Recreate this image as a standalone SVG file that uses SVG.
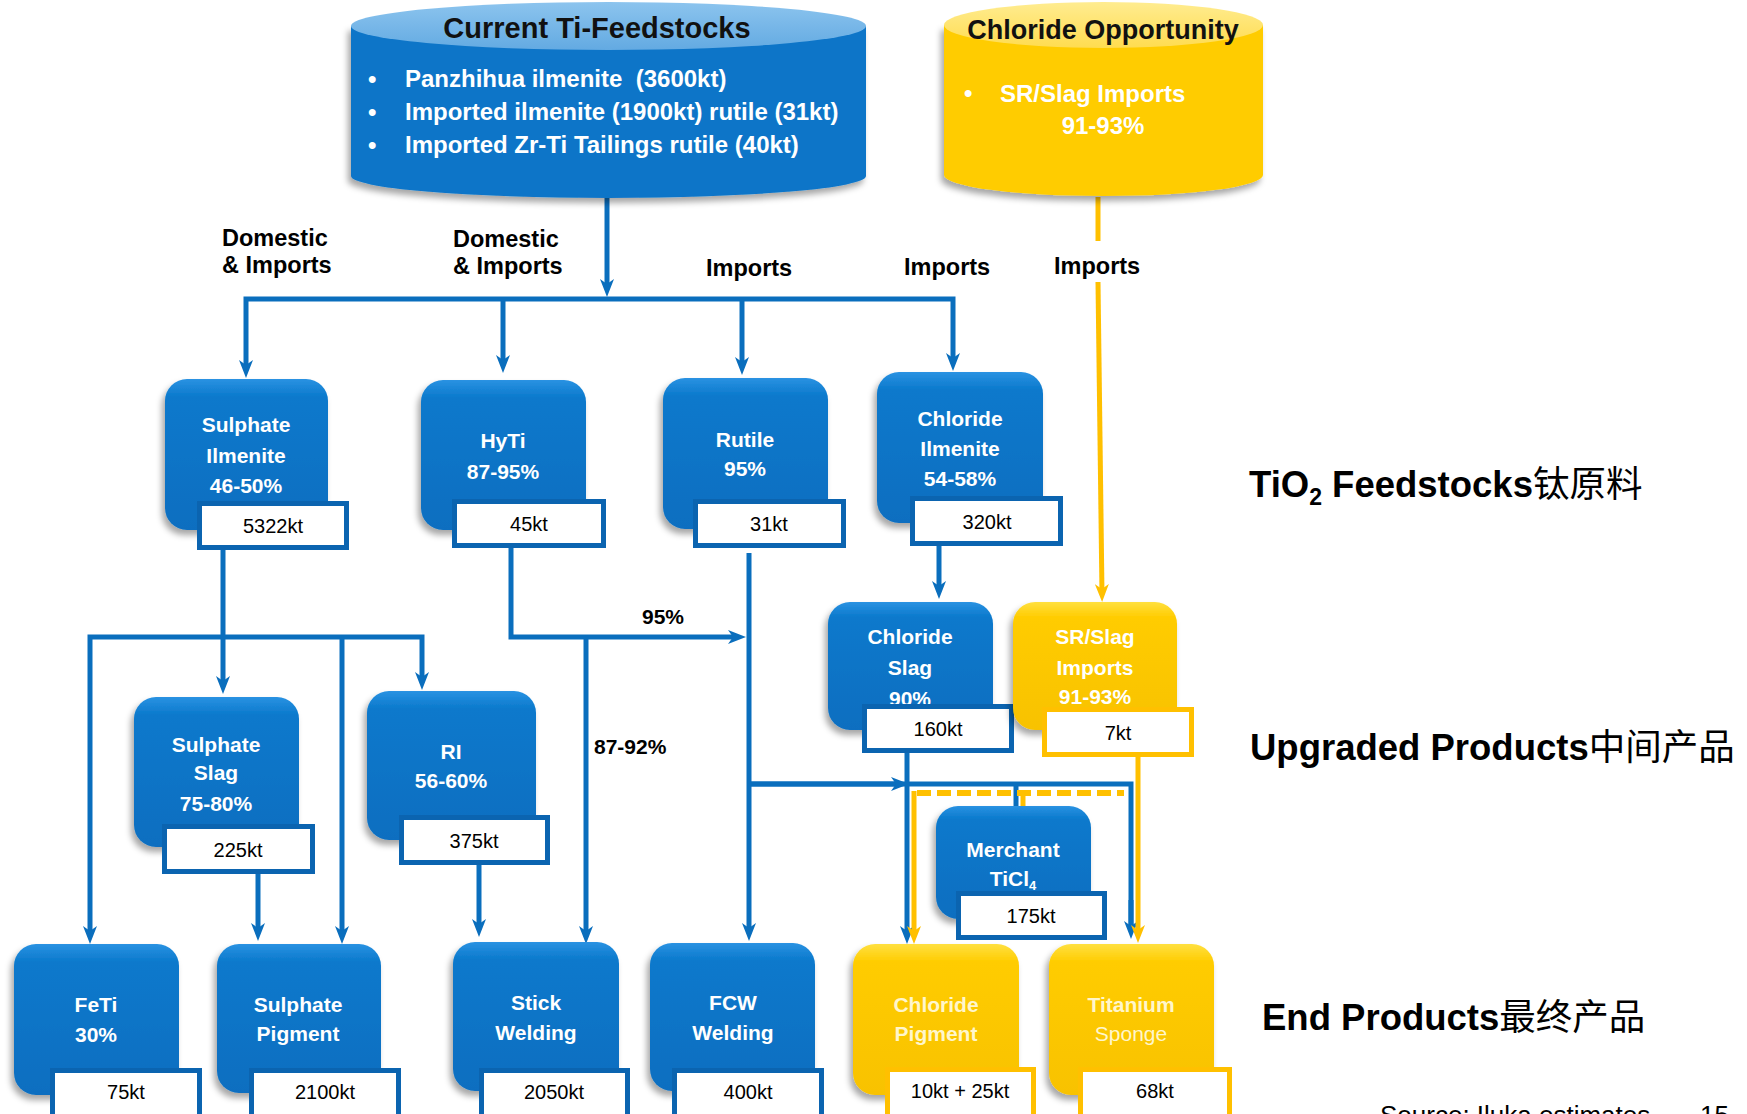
<svg xmlns="http://www.w3.org/2000/svg" width="1747" height="1114" viewBox="0 0 1747 1114">
<defs>
<style>
.box-b{fill:url(#gb);filter:url(#sh)}
.box-y{fill:url(#gy);filter:url(#sh)}
.lbl-b{fill:#fff;stroke:#0B64B0;stroke-width:5}
.lbl-y{fill:#fff;stroke:#FFC000;stroke-width:5}
.t{font-family:"Liberation Sans",Arial,sans-serif;font-weight:bold;font-size:21px;fill:#fff;text-anchor:middle}
.ty{font-family:"Liberation Sans",Arial,sans-serif;font-weight:bold;font-size:21px;fill:#FFF6CC;text-anchor:middle}
.v{font-family:"Liberation Sans",Arial,sans-serif;font-size:20px;fill:#000;text-anchor:middle}
.lab{font-family:"Liberation Sans",Arial,sans-serif;font-weight:bold;font-size:23.5px;fill:#000}
.big{font-family:"Liberation Sans",Arial,sans-serif;font-weight:bold;font-size:36.5px;fill:#000}
.cjk{font-family:"Noto Sans CJK SC",sans-serif;font-weight:normal}
.cb{fill:none;stroke:#0A6EBD;stroke-width:5}
.cy{fill:none;stroke:#FFC000;stroke-width:5}
.ab{marker-end:url(#arb)}
.ay{marker-end:url(#ary)}
</style>
<linearGradient id="gb" x1="0" y1="0" x2="0" y2="1">
<stop offset="0" stop-color="#2A92E2"/>
<stop offset="0.12" stop-color="#0A79CC"/>
<stop offset="1" stop-color="#0A6EC0"/>
</linearGradient>
<linearGradient id="gy" x1="0" y1="0" x2="0" y2="1">
<stop offset="0" stop-color="#FFE040"/>
<stop offset="0.12" stop-color="#FFCC00"/>
<stop offset="1" stop-color="#F8C200"/>
</linearGradient>
<linearGradient id="gct" x1="0" y1="0" x2="0" y2="1">
<stop offset="0" stop-color="#8CC4EE"/>
<stop offset="1" stop-color="#63AAE2"/>
</linearGradient>
<linearGradient id="gyt" x1="0" y1="0" x2="0" y2="1">
<stop offset="0" stop-color="#FFEC90"/>
<stop offset="1" stop-color="#FFDC50"/>
</linearGradient>
<filter id="sh" x="-20%" y="-20%" width="140%" height="150%">
<feDropShadow dx="-3" dy="5" stdDeviation="3" flood-color="#000" flood-opacity="0.35"/>
</filter>
<marker id="arb" markerUnits="userSpaceOnUse" markerWidth="18" markerHeight="14" refX="10" refY="7" orient="auto-start-reverse">
<path d="M0,0 L18,7 L0,14 L5,7 Z" fill="#0A6EBD"/>
</marker>
<marker id="ary" markerUnits="userSpaceOnUse" markerWidth="18" markerHeight="14" refX="10" refY="7" orient="auto-start-reverse">
<path d="M0,0 L18,7 L0,14 L5,7 Z" fill="#FFC000"/>
</marker>
</defs>
<rect width="1747" height="1114" fill="#fff"/>

<g id="connectors">
<path class="cb ab" d="M607,198 L607,289"/>
<path class="cb ab" d="M246,370 L246,299 L953,299 L953,363" style="marker-start:url(#arb)"/>
<path class="cb ab" d="M503,299 L503,365"/>
<path class="cb ab" d="M742,299 L742,367"/>
<path class="cb ab" d="M223,550 L223,686"/>
<path class="cb ab" d="M90,936 L90,637 L422,637 L422,682" style="marker-start:url(#arb)"/>
<path class="cb ab" d="M342,637 L342,936"/>
<path class="cb ab" d="M258,874 L258,933"/>
<path class="cb ab" d="M479,865 L479,929"/>
<path class="cb ab" d="M511,548 L511,637 L738,637"/>
<path class="cb ab" d="M586,637 L586,936"/>
<path class="cb ab" d="M749,553 L749,933"/>
<path class="cb" d="M749,784 L1131,784 L1131,931"/>
<path class="cb ab" d="M749,784 L901,784"/>
<path class="cb ab" d="M1131,900 L1131,931"/>
<path class="cb ab" d="M939,546 L939,591"/>
<path class="cb ab" d="M907,753 L907,936"/>
<path class="cb" d="M1016,784 L1016,806"/>
<path class="cy" d="M1098,197 L1098,241"/>
<path class="cy ay" d="M1098,282 L1102,594"/>
<path class="cy ay" d="M1138,757 L1138,935"/>
<path class="cy" d="M917,793 L1124,793" style="stroke-width:6;stroke-dasharray:14,6"/>
<path class="cy ay" d="M914,791 L914,936"/>
<path class="cy" d="M1023,793 L1023,806"/>
<text class="lab" x="663" y="624" text-anchor="middle" style="font-size:21px">95%</text>
<text class="lab" x="594" y="754" style="font-size:21px">87-92%</text>
<text class="lab" x="222" y="246">Domestic</text>
<text class="lab" x="222" y="273">&amp; Imports</text>
<text class="lab" x="453" y="247">Domestic</text>
<text class="lab" x="453" y="274">&amp; Imports</text>
<text class="lab" x="706" y="276">Imports</text>
<text class="lab" x="904" y="275">Imports</text>
<text class="lab" x="1054" y="274">Imports</text>
</g>

<g id="current-ti-feedstocks">
<path d="M351,26 L351,176 A257.5,22 0 0 0 866,176 L866,26 Z" fill="#0A74C8" filter="url(#sh)"/>
<ellipse cx="608.5" cy="26" rx="257.5" ry="24" fill="url(#gct)"/>
<text x="597" y="38" text-anchor="middle" style="font-family:'Liberation Sans',Arial,sans-serif;font-weight:bold;font-size:29px;fill:#111">Current Ti-Feedstocks</text>
<g style="font-family:'Liberation Sans',Arial,sans-serif;font-weight:bold;font-size:24px;fill:#fff">
<text x="368" y="87">•</text><text x="405" y="87">Panzhihua ilmenite &#160;(3600kt)</text>
<text x="368" y="120">•</text><text x="405" y="120">Imported ilmenite (1900kt) rutile (31kt)</text>
<text x="368" y="153">•</text><text x="405" y="153">Imported Zr-Ti Tailings rutile (40kt)</text>
</g>
</g>

<g id="chloride-opportunity">
<path d="M944,25 L944,175 A159.5,21 0 0 0 1263,175 L1263,25 Z" fill="#FFCC00" filter="url(#sh)"/>
<ellipse cx="1103.5" cy="25" rx="159.5" ry="23" fill="url(#gyt)"/>
<text x="1103" y="39" text-anchor="middle" style="font-family:'Liberation Sans',Arial,sans-serif;font-weight:bold;font-size:27px;fill:#111">Chloride Opportunity</text>
<g style="font-family:'Liberation Sans',Arial,sans-serif;font-weight:bold;font-size:24px;fill:#fff">
<text x="964" y="101">•</text><text x="1000" y="102">SR/Slag Imports</text>
<text x="1103" y="134" text-anchor="middle">91-93%</text>
</g>
</g>

<g id="sulphate-ilmenite">
<rect class="box-b" x="165" y="379" width="163" height="151" rx="22"/>
<text class="t" x="246" y="432">Sulphate</text><text class="t" x="246" y="463">Ilmenite</text><text class="t" x="246" y="493">46-50%</text>
<rect class="lbl-b" x="199.5" y="503.5" width="147" height="44"/><text class="v" x="273" y="533">5322kt</text>
</g>
<g id="hyti">
<rect class="box-b" x="421" y="380" width="165" height="150" rx="22"/>
<text class="t" x="503" y="448">HyTi</text><text class="t" x="503" y="479">87-95%</text>
<rect class="lbl-b" x="454.5" y="501.5" width="149" height="44"/><text class="v" x="529" y="531">45kt</text>
</g>
<g id="rutile">
<rect class="box-b" x="663" y="378" width="165" height="151" rx="22"/>
<text class="t" x="745" y="447">Rutile</text><text class="t" x="745" y="476">95%</text>
<rect class="lbl-b" x="695.5" y="501.5" width="148" height="44"/><text class="v" x="769" y="531">31kt</text>
</g>
<g id="chloride-ilmenite">
<rect class="box-b" x="877" y="372" width="166" height="151" rx="22"/>
<text class="t" x="960" y="426">Chloride</text><text class="t" x="960" y="456">Ilmenite</text><text class="t" x="960" y="486">54-58%</text>
<rect class="lbl-b" x="912.5" y="498.5" width="148" height="45"/><text class="v" x="987" y="529">320kt</text>
</g>
<g id="sulphate-slag">
<rect class="box-b" x="134" y="697" width="165" height="150" rx="22"/>
<text class="t" x="216" y="752">Sulphate</text><text class="t" x="216" y="780">Slag</text><text class="t" x="216" y="811">75-80%</text>
<rect class="lbl-b" x="164.5" y="826.5" width="148" height="45"/><text class="v" x="238" y="857">225kt</text>
</g>
<g id="ri">
<rect class="box-b" x="367" y="691" width="169" height="149" rx="22"/>
<text class="t" x="451" y="759">RI</text><text class="t" x="451" y="788">56-60%</text>
<rect class="lbl-b" x="401.5" y="817.5" width="146" height="45"/><text class="v" x="474" y="848">375kt</text>
</g>
<g id="chloride-slag">
<rect class="box-b" x="828" y="602" width="165" height="128" rx="22"/>
<text class="t" x="910" y="644">Chloride</text><text class="t" x="910" y="675">Slag</text><text class="t" x="910" y="706">90%</text>
<rect class="lbl-b" x="864.5" y="706.5" width="147" height="44"/><text class="v" x="938" y="736">160kt</text>
</g>
<g id="sr-slag-imports">
<rect class="box-y" x="1013" y="602" width="164" height="128" rx="22"/>
<text class="t" x="1095" y="644">SR/Slag</text><text class="t" x="1095" y="675">Imports</text><text class="t" x="1095" y="704">91-93%</text>
<rect class="lbl-y" x="1044.5" y="709.5" width="147" height="45"/><text class="v" x="1118" y="740">7kt</text>
</g>
<g id="merchant-ticl4">
<rect class="box-b" x="936" y="806" width="155" height="113" rx="22"/>
<text class="t" x="1013" y="857">Merchant</text><text class="t" x="1013" y="886">TiCl<tspan font-size="13" dy="4">4</tspan></text>
<rect class="lbl-b" x="958.5" y="893.5" width="146" height="44"/><text class="v" x="1031" y="923">175kt</text>
</g>
<g id="feti">
<rect class="box-b" x="14" y="944" width="165" height="151" rx="22"/>
<text class="t" x="96" y="1012">FeTi</text><text class="t" x="96" y="1042">30%</text>
<rect class="lbl-b" x="52.5" y="1070.5" width="147" height="52"/><text class="v" x="126" y="1099">75kt</text>
</g>
<g id="sulphate-pigment">
<rect class="box-b" x="217" y="944" width="164" height="149" rx="22"/>
<text class="t" x="298" y="1012">Sulphate</text><text class="t" x="298" y="1041">Pigment</text>
<rect class="lbl-b" x="251.5" y="1070.5" width="147" height="52"/><text class="v" x="325" y="1099">2100kt</text>
</g>
<g id="stick-welding">
<rect class="box-b" x="453" y="942" width="166" height="149" rx="22"/>
<text class="t" x="536" y="1010">Stick</text><text class="t" x="536" y="1040">Welding</text>
<rect class="lbl-b" x="481.5" y="1070.5" width="146" height="52"/><text class="v" x="554" y="1099">2050kt</text>
</g>
<g id="fcw-welding">
<rect class="box-b" x="650" y="943" width="165" height="148" rx="22"/>
<text class="t" x="733" y="1010">FCW</text><text class="t" x="733" y="1040">Welding</text>
<rect class="lbl-b" x="674.5" y="1070.5" width="147" height="52"/><text class="v" x="748" y="1099">400kt</text>
</g>
<g id="chloride-pigment">
<rect class="box-y" x="853" y="944" width="166" height="151" rx="22"/>
<text class="ty" x="936" y="1012">Chloride</text><text class="ty" x="936" y="1041">Pigment</text>
<rect class="lbl-y" x="887.5" y="1069.5" width="146" height="52"/><text class="v" x="960" y="1098">10kt + 25kt</text>
</g>
<g id="titanium-sponge">
<rect class="box-y" x="1049" y="944" width="165" height="151" rx="22"/>
<text class="ty" x="1131" y="1012">Titanium</text><text class="ty" x="1131" y="1041" style="font-weight:normal">Sponge</text>
<rect class="lbl-y" x="1080.5" y="1069.5" width="149" height="52"/><text class="v" x="1155" y="1098">68kt</text>
</g>

<g id="side-labels">
<text class="big" x="1249" y="497">TiO<tspan font-size="23" dy="8">2</tspan><tspan dy="-8"> Feedstocks</tspan><tspan class="cjk">钛原料</tspan></text>
<text class="big" x="1250" y="760">Upgraded Products<tspan class="cjk">中间产品</tspan></text>
<text class="big" x="1262" y="1030">End Products<tspan class="cjk">最终产品</tspan></text>
<text x="1380" y="1124" style="font-family:'Liberation Sans',Arial,sans-serif;font-size:26px;fill:#000">Source: Iluka estimates</text>
<text x="1700" y="1124" style="font-family:'Liberation Sans',Arial,sans-serif;font-size:26px;fill:#000">15</text>
</g>
</svg>
